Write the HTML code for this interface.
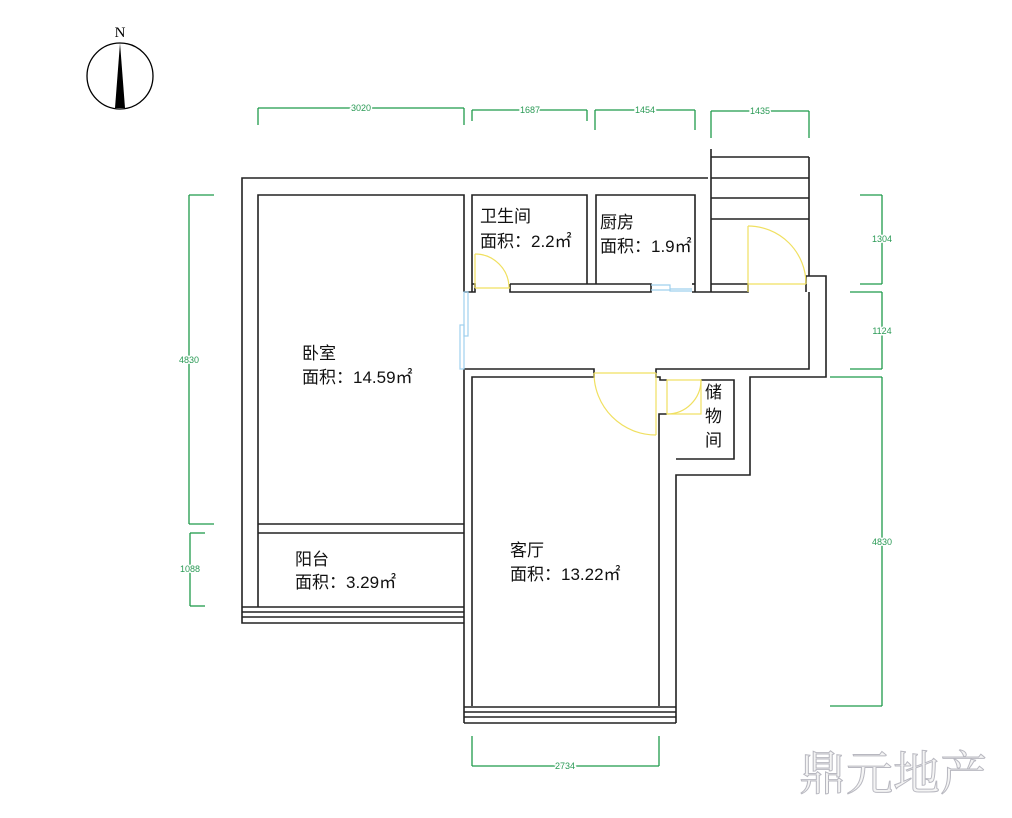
<!DOCTYPE html>
<html><head><meta charset="utf-8"><style>
html,body{margin:0;padding:0;background:#fff;}
svg{display:block;}
</style></head><body>
<svg width="1012" height="818" viewBox="0 0 1012 818" xmlns="http://www.w3.org/2000/svg" style="font-family:'Liberation Sans','Noto Sans CJK SC',sans-serif">
<!-- compass -->
<circle cx="120" cy="76" r="33" fill="none" stroke="#000" stroke-width="1.3"/>
<polygon points="120,43 115,108 125,108" fill="#000"/>
<text x="120" y="37" style="font-family:'Liberation Serif',serif;font-size:15px" text-anchor="middle" fill="#000">N</text>

<g fill="none" stroke="#222" stroke-width="1.6">
<polyline points="708,178 242,178 242,623 464,623"/>
<polyline points="258,607 258,195 464,195 464,292"/>
<polyline points="472,292 472,195 587,195 587,284"/>
<polyline points="596,284 596,195 695,195 695,292"/>
<line x1="711" y1="149" x2="711" y2="292"/>
<line x1="711" y1="157" x2="809" y2="157"/>
<line x1="711" y1="178" x2="809" y2="178"/>
<line x1="711" y1="198" x2="809" y2="198"/>
<line x1="711" y1="219" x2="809" y2="219"/>
<line x1="809" y1="157" x2="809" y2="276"/>
<polyline points="464,292 475,292 475,284 472,284"/>
<polyline points="510,284 651,284 651,292 510,292 510,284"/>
<polyline points="692,284 695,284"/>
<polyline points="692,292 748,292 748,284 711,284"/>
<polyline points="806,292 806,276 826,276 826,377 750,377 750,475 676,475 676,706"/>
<polyline points="809,292 809,369 656,369 656,377 660,377 660,380 667,380"/>
<polyline points="701,380 734,380 734,459 676,459"/>
<polyline points="659,706 659,414 667,414"/>
<polyline points="464,369 594,369 594,377 472,377 472,706"/>
<line x1="464" y1="369" x2="464" y2="723"/>
<line x1="258" y1="524" x2="464" y2="524"/>
<line x1="258" y1="533" x2="464" y2="533"/>
<line x1="242" y1="607" x2="464" y2="607"/>
<line x1="242" y1="612" x2="464" y2="612"/>
<line x1="242" y1="617" x2="464" y2="617"/>
<line x1="464" y1="707" x2="676" y2="707"/>
<line x1="464" y1="712" x2="676" y2="712"/>
<line x1="464" y1="717" x2="676" y2="717"/>
<line x1="464" y1="723" x2="676" y2="723"/>
<line x1="676" y1="706" x2="676" y2="723"/>
</g>
<g fill="none" stroke="#9fd0ee" stroke-width="1.2">
<rect x="464" y="292" width="4" height="44"/>
<rect x="460" y="325" width="4" height="44"/>
<polyline points="651,285 670,285 670,289 692,289"/>
<polyline points="651,290 670,290 670,291 692,291"/>
</g>
<g fill="none" stroke="#f0e060" stroke-width="1.2">
<line x1="475" y1="254" x2="475" y2="288"/>
<line x1="475" y1="288" x2="510" y2="288"/>
<path d="M475,254 A34,34 0 0 1 509,288"/>
<line x1="748" y1="226" x2="748" y2="292"/>
<line x1="748" y1="284" x2="806" y2="284"/>
<path d="M748,226 A58,58 0 0 1 806,284"/>
<line x1="656" y1="373" x2="656" y2="435"/>
<line x1="594" y1="373" x2="656" y2="373"/>
<path d="M594,373 A62,62 0 0 0 656,435"/>
<rect x="667" y="380" width="34" height="34"/>
<path d="M701,380 A34,34 0 0 1 667,414"/>
</g>
<g font-size="17" fill="#111">
<text x="480" y="222">卫生间</text>
<text x="480" y="247">面积：2.2㎡</text>
<text x="600" y="228">厨房</text>
<text x="600" y="252">面积：1.9㎡</text>
<text x="302" y="359">卧室</text>
<text x="302" y="383">面积：14.59㎡</text>
<text x="295" y="565">阳台</text>
<text x="295" y="588">面积：3.29㎡</text>
<text x="510" y="556">客厅</text>
<text x="510" y="580">面积：13.22㎡</text>
<text x="705" y="398">储</text>
<text x="705" y="422">物</text>
<text x="705" y="446">间</text>
</g>
<g stroke="#1f9a4a" stroke-width="1.3" fill="none">
<line x1="258" y1="108" x2="464" y2="108"/><line x1="258" y1="108" x2="258" y2="125"/><line x1="464" y1="108" x2="464" y2="125"/>
<line x1="472" y1="110" x2="587" y2="110"/><line x1="472" y1="110" x2="472" y2="121"/><line x1="587" y1="110" x2="587" y2="121"/>
<line x1="595" y1="110" x2="695" y2="110"/><line x1="595" y1="110" x2="595" y2="130"/><line x1="695" y1="110" x2="695" y2="130"/>
<line x1="711" y1="111" x2="809" y2="111"/><line x1="711" y1="111" x2="711" y2="138"/><line x1="809" y1="111" x2="809" y2="138"/>
<line x1="189" y1="195" x2="189" y2="524"/><line x1="189" y1="195" x2="214" y2="195"/><line x1="189" y1="524" x2="214" y2="524"/>
<line x1="190" y1="533" x2="190" y2="606"/><line x1="190" y1="533" x2="205" y2="533"/><line x1="190" y1="606" x2="205" y2="606"/>
<line x1="882" y1="195" x2="882" y2="284"/><line x1="860" y1="195" x2="882" y2="195"/><line x1="860" y1="284" x2="882" y2="284"/>
<line x1="882" y1="292" x2="882" y2="369"/><line x1="850" y1="292" x2="882" y2="292"/><line x1="850" y1="369" x2="882" y2="369"/>
<line x1="882" y1="377" x2="882" y2="706"/><line x1="830" y1="377" x2="882" y2="377"/><line x1="830" y1="706" x2="882" y2="706"/>
<line x1="472" y1="766" x2="659" y2="766"/><line x1="472" y1="736" x2="472" y2="766"/><line x1="659" y1="736" x2="659" y2="766"/>
</g>
<g font-size="9" fill="#2a9a55" text-anchor="middle">
<text x="361" y="111" style="paint-order:stroke" stroke="#fff" stroke-width="3">3020</text>
<text x="530" y="113" style="paint-order:stroke" stroke="#fff" stroke-width="3">1687</text>
<text x="645" y="113" style="paint-order:stroke" stroke="#fff" stroke-width="3">1454</text>
<text x="760" y="114" style="paint-order:stroke" stroke="#fff" stroke-width="3">1435</text>
<text x="189" y="363" style="paint-order:stroke" stroke="#fff" stroke-width="3">4830</text>
<text x="190" y="572" style="paint-order:stroke" stroke="#fff" stroke-width="3">1088</text>
<text x="882" y="242" style="paint-order:stroke" stroke="#fff" stroke-width="3">1304</text>
<text x="882" y="334" style="paint-order:stroke" stroke="#fff" stroke-width="3">1124</text>
<text x="882" y="545" style="paint-order:stroke" stroke="#fff" stroke-width="3">4830</text>
<text x="565" y="769" style="paint-order:stroke" stroke="#fff" stroke-width="3">2734</text>
</g>
<text x="799" y="790" style="font-family:'Noto Serif CJK SC',serif;font-size:47px" fill="#f4f4f4" stroke="#b8b8c0" stroke-width="1">鼎元地产</text>
</svg>
</body></html>
